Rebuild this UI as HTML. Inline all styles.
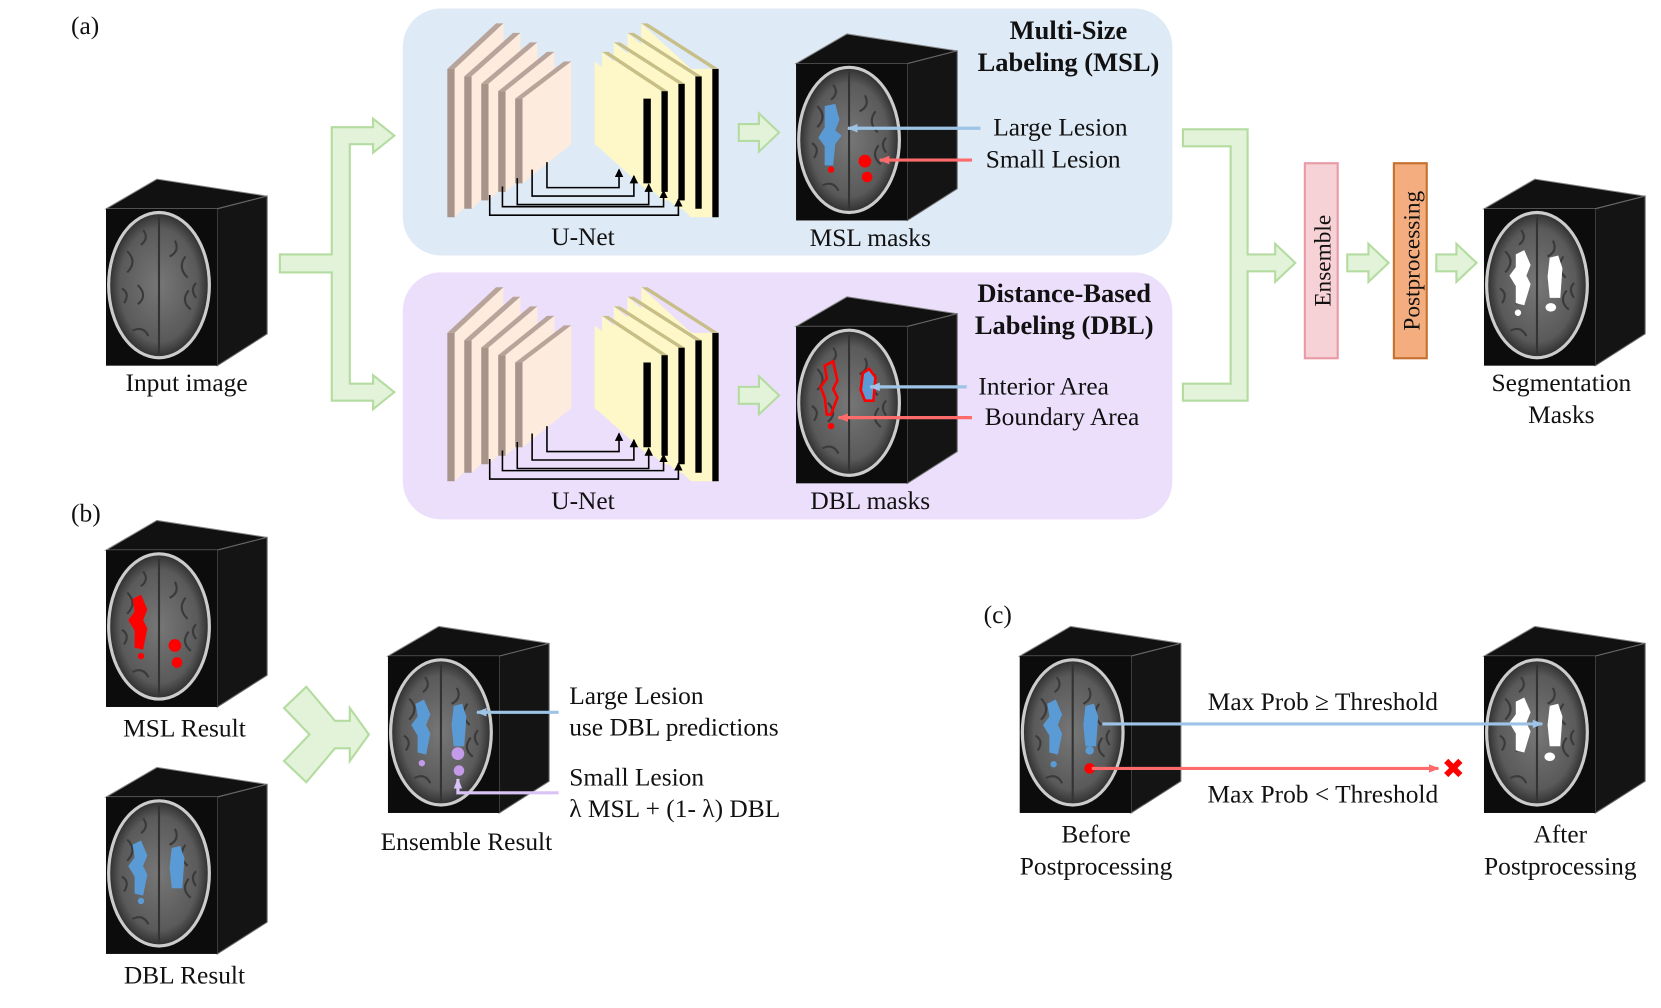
<!DOCTYPE html>
<html><head><meta charset="utf-8"><style>
html,body{margin:0;padding:0;background:#fff;}
svg{display:block;}
text{font-family:"Liberation Serif",serif;font-size:24px;fill:#111;}
.b{font-weight:bold;font-size:25px;}
</style></head><body>
<svg width="1661" height="1008" viewBox="0 0 1567 951" preserveAspectRatio="none" xmlns="http://www.w3.org/2000/svg">
<defs>
<radialGradient id="br" cx="50%" cy="50%" r="50%">
<stop offset="0" stop-color="#777"/><stop offset="0.8" stop-color="#5a5a5a"/><stop offset="1" stop-color="#333"/></radialGradient>
<g id="cube">
<polygon points="0,0 48,-28 152,-12 105,0" fill="#111" stroke="#888" stroke-width="1"/>
<polygon points="105,0 152,-12 152,118 105,148" fill="#141414" stroke="#666" stroke-width="1"/>
<rect x="0" y="0" width="105" height="148" fill="#0c0c0c"/>
<ellipse cx="50" cy="72" rx="49" ry="70" fill="#ccc"/>
<ellipse cx="50" cy="72" rx="46" ry="67" fill="url(#br)"/>
<path d="M50 8 L50 137" stroke="#333" stroke-width="2"/>
<path d="M20 40 q10 10 0 20 M30 90 q10 -8 0 -18 M75 45 q-8 10 2 20 M80 95 q-10 -8 -2 -18 M25 115 q10 -5 15 5 M65 30 q5 10 -5 15 M15 75 q8 5 2 14 M85 70 q-6 6 0 14 M35 20 q6 8 -2 14" stroke="#3a3a3a" stroke-width="2" fill="none"/>
</g>
<marker id="ab" markerWidth="10" markerHeight="10" refX="9" refY="5" orient="auto" markerUnits="userSpaceOnUse"><path d="M0,1 L10,5 L0,9 Z" fill="#9dc3e6"/></marker>
<marker id="ar" markerWidth="10" markerHeight="10" refX="9" refY="5" orient="auto" markerUnits="userSpaceOnUse"><path d="M0,1 L10,5 L0,9 Z" fill="#ff6b6b"/></marker>
<marker id="ap" markerWidth="10" markerHeight="10" refX="9" refY="5" orient="auto" markerUnits="userSpaceOnUse"><path d="M0,1 L10,5 L0,9 Z" fill="#d9c2f5"/></marker>
<marker id="ak" markerWidth="8" markerHeight="8" refX="7" refY="4" orient="auto" markerUnits="userSpaceOnUse"><path d="M0,0 L8,4 L0,8 Z" fill="#000"/></marker>
<g id="enc">
<g stroke="none">
<polygon points="422,65 468,22 475,22 429,65" fill="#b8a49a"/><polygon points="422,65 429,65 429,205 422,205" fill="#a8948a"/><polygon points="429,65 475,22 475,160 429,205" fill="#fdebdd"/>
<polygon points="438,72 484,31 491,31 445,72" fill="#b8a49a"/><polygon points="438,72 445,72 445,197 438,197" fill="#a8948a"/><polygon points="445,72 491,31 491,154 445,197" fill="#fdebdd"/>
<polygon points="454,79 500,40 507,40 461,79" fill="#b8a49a"/><polygon points="454,79 461,79 461,189 454,189" fill="#a8948a"/><polygon points="461,79 507,40 507,148 461,189" fill="#fdebdd"/>
<polygon points="470,86 516,49 523,49 477,86" fill="#b8a49a"/><polygon points="470,86 477,86 477,181 470,181" fill="#a8948a"/><polygon points="477,86 523,49 523,142 477,181" fill="#fdebdd"/>
<polygon points="486,93 532,58 539,58 493,93" fill="#b8a49a"/><polygon points="486,93 493,93 493,173 486,173" fill="#a8948a"/><polygon points="493,93 539,58 539,136 493,173" fill="#fdebdd"/>
</g>
<g stroke="none">
<polygon points="605,22 652,65 678,65 678,205 652,205 605,160" fill="#fef8c8"/><polygon points="672,65 678,65 678,205 672,205" fill="#000"/><polygon points="605,22 672,65 678,65 611,22" fill="#c8bf88"/>
<polygon points="592,31 640,72 662,72 662,197 640,197 592,154" fill="#fef8c8"/><polygon points="656,72 662,72 662,197 656,197" fill="#000"/><polygon points="592,31 656,72 662,72 598,31" fill="#c8bf88"/>
<polygon points="579,40 626,79 646,79 646,189 626,189 579,148" fill="#fef8c8"/><polygon points="640,79 646,79 646,189 640,189" fill="#000"/><polygon points="579,40 640,79 646,79 585,40" fill="#c8bf88"/>
<polygon points="568,49 612,86 630,86 630,181 612,181 568,142" fill="#fef8c8"/><polygon points="624,86 630,86 630,181 624,181" fill="#000"/><polygon points="568,49 624,86 630,86 574,49" fill="#c8bf88"/>
<polygon points="561,58 606,93 614,93 614,173 606,173 561,136" fill="#fef8c8"/><polygon points="607,93 614,93 614,173 607,173" fill="#000"/>
</g>
<g stroke="#000" stroke-width="1.5" fill="none">
<path d="M516,153 V177 H584 V160" marker-end="url(#ak)"/>
<path d="M502,160 V185 H598 V166" marker-end="url(#ak)"/>
<path d="M488,168 V193 H612 V174" marker-end="url(#ak)"/>
<path d="M474,176 V195 H626 V180" marker-end="url(#ak)"/>
<path d="M462,184 V203 H640 V188" marker-end="url(#ak)"/>
</g>
</g>
</defs>

<rect x="380" y="8" width="726" height="233" rx="36" fill="#deeaf6"/>
<rect x="380" y="257" width="726" height="233" rx="36" fill="#ecdffb"/>

<text x="67" y="32">(a)</text>
<text x="67" y="492">(b)</text>
<text x="928" y="588">(c)</text>

<use href="#enc"/>
<use href="#enc" y="249"/>

<g fill="#e2f3d9" stroke="#b4dca0" stroke-width="2">
<path d="M264,240 H313 V120 H352 V112 L372,128 L352,144 V136 H330 V362 H352 V354 L372,370 L352,386 V378 H313 V257 H264 Z"/>
<path d="M697,117 H716 V107 L735,125 L716,143 V133 H697 Z"/>
<path d="M697,365 H716 V355 L735,373 L716,391 V381 H697 Z"/>
<path d="M1116,122 H1177 V240 H1203 V230 L1222,248 L1203,266 V256 H1177 V378 H1116 V362 H1161 V138 H1116 Z"/>
<path d="M1271,240 H1291 V230 L1310,248 L1291,266 V256 H1271 Z"/>
<path d="M1355,240 H1374 V230 L1393,248 L1374,266 V256 H1355 Z"/>
<path d="M268,668 L289,648 L316,680 H330 V668 L348,693 L330,718 V706 L316,706 L289,738 L268,718 L292,693 Z"/>
</g>

<rect x="1231" y="154" width="31" height="184" fill="#f6d1d5" stroke="#e89aa5" stroke-width="2"/>
<text transform="translate(1255,246) rotate(-90)" text-anchor="middle" style="font-size:22px">Ensemble</text>
<rect x="1315" y="154" width="31" height="184" fill="#f4ad7e" stroke="#c6702f" stroke-width="2"/>
<text transform="translate(1339,246) rotate(-90)" text-anchor="middle" style="font-size:22px">Postprocessing</text>

<use href="#cube" x="100" y="197"/>
<use href="#cube" x="751" y="60"/>
<use href="#cube" x="751" y="308"/>
<use href="#cube" x="1400" y="197"/>
<use href="#cube" x="100" y="519"/>
<use href="#cube" x="100" y="752"/>
<use href="#cube" x="366" y="619"/>
<use href="#cube" x="962" y="619"/>
<use href="#cube" x="1400" y="619"/>

<path d="M778,100 l10,-2 l4,15 l-4,10 l6,5 l-6,8 l-2,20 l-8,0 l0,-18 l-6,-8 l6,-10 z" fill="#5b9bd5"/>
<circle cx="816" cy="152" r="6" fill="#f00"/><circle cx="818" cy="167" r="5" fill="#f00"/><circle cx="784" cy="160" r="3" fill="#f00"/>
<path d="M778,345 l8,-4 l4,18 l-4,8 l4,8 l-6,16 l-4,0 l-2,-16 l-4,-10 l6,-8 z" fill="none" stroke="#f00" stroke-width="2.5"/>
<path d="M814,352 l6,-4 l6,8 l-2,22 l-8,0 l-4,-10 z" fill="#5b9bd5" stroke="#f00" stroke-width="2.5"/>
<circle cx="784" cy="402" r="3" fill="#f00"/>
<path d="M1430,240 l8,-4 l6,14 l-4,10 l4,8 l-6,20 l-8,-2 l0,-16 l-6,-10 l6,-8z M1462,243 l8,-2 l4,12 l-2,28 l-10,0 l-2,-20z M1432,292 a3,3 0 1,0 0.1,0 M1463,286 a5,4 0 1,0 0.1,0" fill="#fff"/>
<path d="M125,565 l8,-4 l6,14 l-4,10 l4,8 l-4,20 l-8,-2 l0,-16 l-6,-10 l6,-8z" fill="#f00"/><circle cx="165" cy="609" r="6" fill="#f00"/><circle cx="167" cy="625" r="5" fill="#f00"/><circle cx="133" cy="619" r="3" fill="#f00"/>
<path d="M125,797 l8,-4 l6,14 l-4,10 l4,8 l-4,20 l-8,-2 l0,-16 l-6,-10 l6,-8z M162,800 l8,-2 l4,12 l-2,28 l-10,0 l-2,-20z" fill="#5b9bd5"/><circle cx="133" cy="850" r="3" fill="#5b9bd5"/>
<path d="M392,664 l8,-4 l6,14 l-4,10 l4,8 l-4,20 l-8,-2 l0,-16 l-6,-10 l6,-8z M428,666 l8,-2 l4,12 l-2,28 l-10,0 l-2,-20z" fill="#5b9bd5"/>
<circle cx="432" cy="711" r="6" fill="#c49be8"/><circle cx="433" cy="727" r="5" fill="#c49be8"/><circle cx="398" cy="720" r="3" fill="#c49be8"/>
<path d="M988,664 l8,-4 l6,14 l-4,10 l4,8 l-4,20 l-8,-2 l0,-16 l-6,-10 l6,-8z M1024,666 l8,-2 l4,12 l-2,28 l-10,0 l-2,-20z" fill="#5b9bd5"/><circle cx="1028" cy="708" r="4" fill="#5b9bd5"/><circle cx="994" cy="721" r="3" fill="#5b9bd5"/>
<circle cx="1028" cy="725" r="5" fill="#f00"/>
<path d="M1430,662 l8,-4 l6,14 l-4,10 l4,8 l-6,20 l-8,-2 l0,-16 l-6,-10 l6,-8z M1462,666 l8,-2 l4,12 l-2,28 l-10,0 l-2,-20z M1462,710 a5,4 0 1,0 0.1,0" fill="#fff"/>

<g stroke-width="3" fill="none">
<line x1="925" y1="121" x2="800" y2="121" stroke="#9dc3e6" marker-end="url(#ab)"/>
<line x1="917" y1="151" x2="830" y2="151" stroke="#ff6b6b" marker-end="url(#ar)"/>
<line x1="912" y1="365" x2="821" y2="365" stroke="#9dc3e6" marker-end="url(#ab)"/>
<line x1="917" y1="394" x2="791" y2="394" stroke="#ff6b6b" marker-end="url(#ar)"/>
<line x1="527" y1="672" x2="450" y2="672" stroke="#9dc3e6" marker-end="url(#ab)"/>
<path d="M527,748 H432 V735" stroke="#d9c2f5" marker-end="url(#ap)"/>
<line x1="1040" y1="683" x2="1455" y2="683" stroke="#9dc3e6" marker-end="url(#ab)"/>
<line x1="1030" y1="725" x2="1357" y2="725" stroke="#ff6b6b" marker-end="url(#ar)"/>
</g>
<text x="1371" y="734" text-anchor="middle" style="font-size:26px;fill:#f00;font-family:'DejaVu Sans',sans-serif">✖</text>

<g text-anchor="middle">
<text x="176" y="369">Input image</text>
<text x="550" y="231">U-Net</text>
<text x="550" y="480">U-Net</text>
<text x="821" y="232">MSL masks</text>
<text x="821" y="480">DBL masks</text>
<text x="1008" y="37" class="b">Multi-Size</text>
<text x="1008" y="67" class="b">Labeling (MSL)</text>
<text x="1004" y="285" class="b">Distance-Based</text>
<text x="1004" y="315" class="b">Labeling (DBL)</text>
<text x="1473" y="369">Segmentation</text>
<text x="1473" y="399">Masks</text>
<text x="174" y="695">MSL Result</text>
<text x="174" y="928">DBL Result</text>
<text x="440" y="802">Ensemble Result</text>
<text x="1034" y="795">Before</text>
<text x="1034" y="825">Postprocessing</text>
<text x="1472" y="795">After</text>
<text x="1472" y="825">Postprocessing</text>
<text x="1248" y="670">Max Prob ≥ Threshold</text>
<text x="1248" y="757">Max Prob &lt; Threshold</text>
</g>
<text x="937" y="128">Large Lesion</text>
<text x="930" y="158">Small Lesion</text>
<text x="923" y="372">Interior Area</text>
<text x="929" y="401">Boundary Area</text>
<text x="537" y="664">Large Lesion</text>
<text x="537" y="694">use DBL predictions</text>
<text x="537" y="741">Small Lesion</text>
<text x="537" y="771">λ MSL + (1- λ) DBL</text>
</svg>
</body></html>
